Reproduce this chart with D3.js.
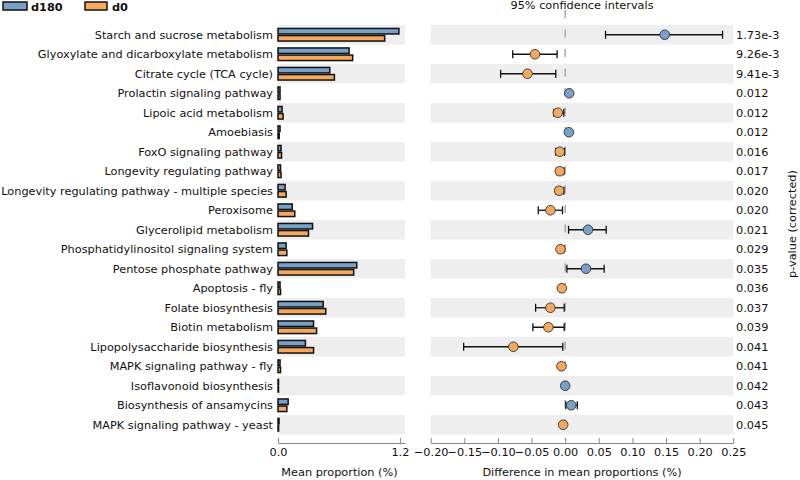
<!DOCTYPE html>
<html><head><meta charset="utf-8">
<script src="https://cdn.jsdelivr.net/npm/d3@7"></script>
<style>body{margin:0;background:#fff}svg{display:block;font-family:"DejaVu Sans",sans-serif}</style>
</head><body><svg id="c" width="800" height="480"></svg>
<script>
const categories = ["Starch and sucrose metabolism","Glyoxylate and dicarboxylate metabolism","Citrate cycle (TCA cycle)","Prolactin signaling pathway","Lipoic acid metabolism","Amoebiasis","FoxO signaling pathway","Longevity regulating pathway","Longevity regulating pathway - multiple species","Peroxisome","Glycerolipid metabolism","Phosphatidylinositol signaling system","Pentose phosphate pathway","Apoptosis - fly","Folate biosynthesis","Biotin metabolism","Lipopolysaccharide biosynthesis","MAPK signaling pathway - fly","Isoflavonoid biosynthesis","Biosynthesis of ansamycins","MAPK signaling pathway - yeast"];
const d180 = [1.19,0.70,0.51,0.02,0.04,0.02,0.03,0.025,0.07,0.14,0.34,0.08,0.775,0.02,0.445,0.35,0.27,0.02,0.003,0.10,0.01];
const d0 = [1.05,0.735,0.555,0.02,0.05,0.012,0.035,0.03,0.08,0.165,0.30,0.087,0.745,0.025,0.47,0.38,0.35,0.025,0.003,0.087,0.006];
const diff = [0.148,-0.045,-0.056,0.006,-0.011,0.0055,-0.008,-0.008,-0.009,-0.022,0.034,-0.007,0.031,-0.005,-0.022,-0.025,-0.077,-0.0055,0.0,0.009,-0.003];
const ciLow = [0.060,-0.078,-0.096,0.004,-0.017,0.004,-0.014,-0.013,-0.014,-0.040,0.005,-0.011,0.0025,-0.008,-0.044,-0.048,-0.151,-0.009,-0.001,0.001,-0.005];
const ciHigh = [0.234,-0.012,-0.014,0.008,-0.002,0.007,-0.001,-0.002,-0.002,-0.004,0.061,-0.002,0.058,-0.002,-0.0015,-0.0015,-0.0035,-0.002,0.001,0.018,-0.001];
const pvals = ["1.73e-3","9.26e-3","9.41e-3","0.012","0.012","0.012","0.016","0.017","0.020","0.020","0.021","0.029","0.035","0.036","0.037","0.039","0.041","0.041","0.042","0.043","0.045"];
const groups = ["d180","d0"];
const colors = ["#78a1c8","#f5a95e"];
const leftTicks = [0, 1.2];
const rightTicks = [-0.20,-0.15,-0.10,-0.05,0.00,0.05,0.10,0.15,0.20,0.25];

const FS = 11.3;
const svg = d3.select("#c");
const y = d3.scaleBand().domain(categories).range([25, 434.5]).padding(0);
const xL = d3.scaleLinear().domain([0, 1.25]).range([278, 405]);
const xR = d3.scaleLinear().domain([-0.20, 0.25]).range([430.7, 733.3]);
const bandFill = "#eeeeee";

// bands
categories.forEach((c, i) => {
  if (i % 2 === 0) {
    svg.append("rect").attr("x", xL.range()[0]).attr("y", y(c)).attr("width", xL.range()[1]-xL.range()[0]).attr("height", y.bandwidth()).attr("fill", bandFill);
    svg.append("rect").attr("x", xR.range()[0]).attr("y", y(c)).attr("width", xR.range()[1]-xR.range()[0]).attr("height", y.bandwidth()).attr("fill", bandFill);
  }
});

// labels
svg.append("g").selectAll("text").data(categories).join("text")
  .attr("x", 273).attr("y", d => y(d) + y.bandwidth()/2).attr("dy", "0.35em")
  .attr("text-anchor", "end").attr("font-size", FS).attr("fill", "#111").text(d => d);

// bars
const bh = 5.5;
svg.append("g").selectAll("rect").data(categories).join("rect")
  .attr("x", xL(0)).attr("y", (d) => y(d) + y.bandwidth()/2 - bh - 0.8)
  .attr("width", (d,i) => Math.max(0.5, xL(d180[i]) - xL(0))).attr("height", bh)
  .attr("fill", colors[0]).attr("stroke", "#111").attr("stroke-width", 1.5);
svg.append("g").selectAll("rect").data(categories).join("rect")
  .attr("x", xL(0)).attr("y", (d) => y(d) + y.bandwidth()/2 + 0.8)
  .attr("width", (d,i) => Math.max(0.5, xL(d0[i]) - xL(0))).attr("height", bh)
  .attr("fill", colors[1]).attr("stroke", "#111").attr("stroke-width", 1.5);

// zero line
svg.append("line").attr("x1", xR(0)).attr("x2", xR(0)).attr("y1", 10).attr("y2", 440)
  .attr("stroke", "#a8a8a8").attr("stroke-width", 1.5).attr("stroke-dasharray", "8,11.5");

// CI
const ci = svg.append("g");
categories.forEach((c, i) => {
  const cy = y(c) + y.bandwidth()/2;
  ci.append("line").attr("x1", xR(ciLow[i])).attr("x2", xR(ciHigh[i])).attr("y1", cy).attr("y2", cy).attr("stroke", "#111").attr("stroke-width", 1.3);
  [ciLow[i], ciHigh[i]].forEach(v => ci.append("line").attr("x1", xR(v)).attr("x2", xR(v)).attr("y1", cy-4).attr("y2", cy+4).attr("stroke", "#111").attr("stroke-width", 1.3));
  ci.append("circle").attr("cx", xR(diff[i])).attr("cy", cy).attr("r", 4.8)
    .attr("fill", diff[i] >= 0 ? colors[0] : colors[1]).attr("stroke", "#333").attr("stroke-width", 0.9);
});

// p-values
svg.append("g").selectAll("text").data(categories).join("text")
  .attr("x", 736).attr("y", d => y(d) + y.bandwidth()/2).attr("dy", "0.35em")
  .attr("font-size", FS).attr("fill", "#111").text((d,i) => pvals[i]);

// axes
function styleAxis(g) {
  g.selectAll("path").attr("stroke", "#888").attr("stroke-width", 1);
  g.selectAll("line").attr("stroke", "#888").attr("stroke-width", 1);
  g.selectAll("text").attr("font-size", FS).attr("fill", "#111").attr("font-family", "DejaVu Sans");
}
const axL = svg.append("g").attr("transform", "translate(0,443)")
  .call(d3.axisBottom(xL).tickValues(leftTicks).tickFormat(d3.format(".1f")).tickSizeInner(-5).tickSizeOuter(0).tickPadding(5));
styleAxis(axL);
const axR = svg.append("g").attr("transform", "translate(0,443)")
  .call(d3.axisBottom(xR).tickValues(rightTicks).tickFormat(d3.format(".2f")).tickSizeInner(-5).tickSizeOuter(0).tickPadding(5));
styleAxis(axR);

svg.append("text").attr("x", 339.5).attr("y", 476).attr("text-anchor", "middle").attr("font-size", FS).attr("fill", "#111").text("Mean proportion (%)");
svg.append("text").attr("x", 582).attr("y", 476).attr("text-anchor", "middle").attr("font-size", FS).attr("fill", "#111").text("Difference in mean proportions (%)");
svg.append("text").attr("x", 582).attr("y", 8.5).attr("text-anchor", "middle").attr("font-size", FS).attr("fill", "#111").text("95% confidence intervals");
svg.append("text").attr("transform", "translate(796,224) rotate(-90)").attr("text-anchor", "middle").attr("font-size", FS).attr("fill", "#111").text("p-value (corrected)");

// legend
const lg = svg.append("g");
[[3,24,31],[85,22,112]].forEach((p, i) => {
  lg.append("rect").attr("x", p[0]).attr("y", 2).attr("width", p[1]).attr("height", 8).attr("fill", colors[i]).attr("stroke", "#111").attr("stroke-width", 1.5);
  lg.append("text").attr("x", p[2]).attr("y", 10.5).attr("font-size", FS).attr("font-weight", "bold").attr("fill", "#111").text(groups[i]);
});
</script></body></html>
